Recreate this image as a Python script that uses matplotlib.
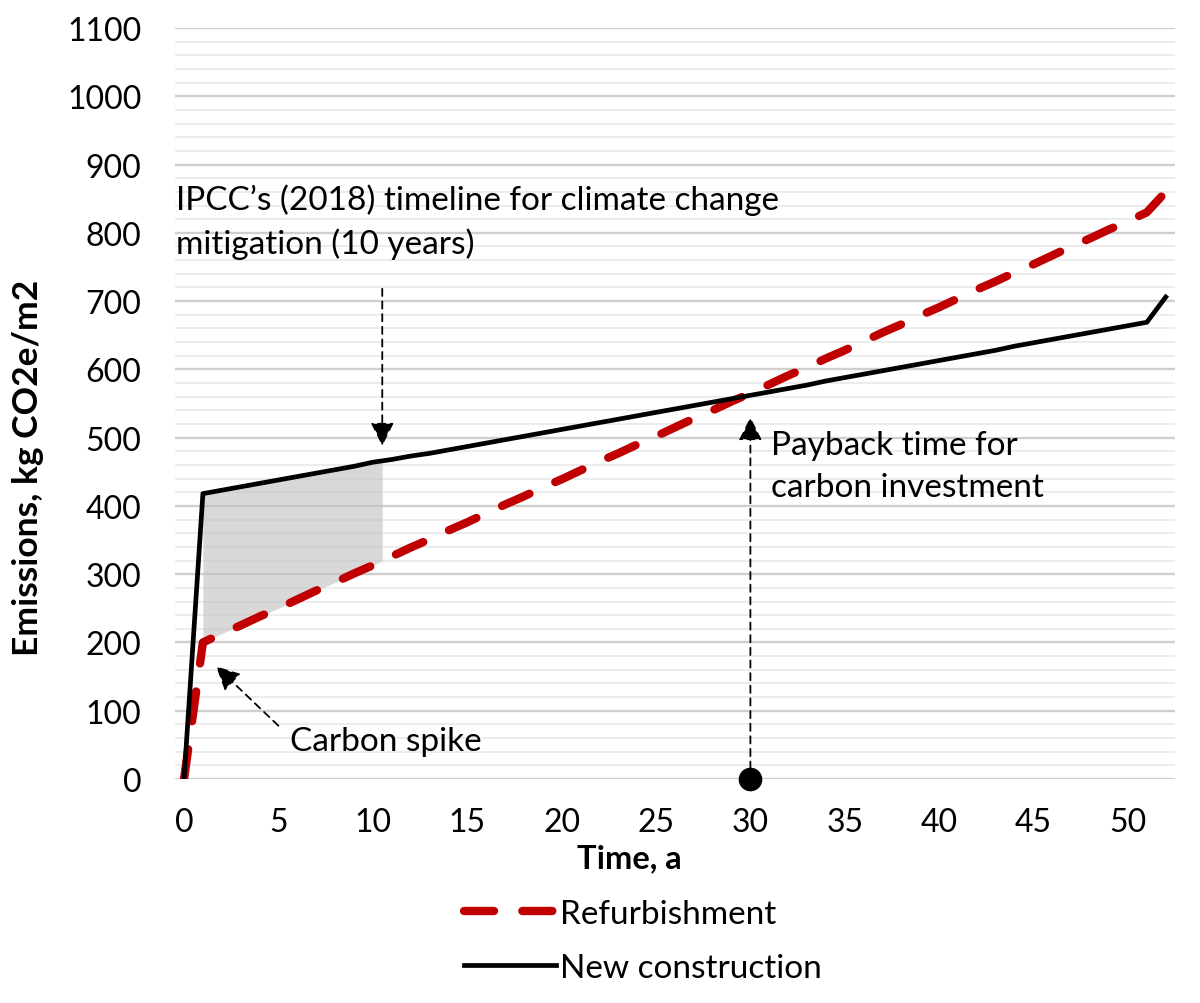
import numpy as np
import matplotlib
matplotlib.use('Agg')
from matplotlib import pyplot as plt

# Datos (kg CO2e/m2 por año)
years = list(range(0, 53))
new_construction = [0, 418, 423, 428, 433, 438, 443, 448, 453, 458,
                    464, 468, 473, 477, 482, 487, 492, 497, 502, 507,
                    512, 517, 522, 527, 532, 537, 542, 547, 552, 557,
                    562, 567, 572, 577, 583, 588, 593, 598, 603, 608,
                    613, 618, 623, 628, 634, 639, 644, 649, 654, 659,
                    664, 669, 706]
refurbishment = [0, 200, 213, 225, 238, 250, 263, 276, 288, 301,
                 313, 326, 339, 351, 364, 376, 389, 402, 414, 427,
                 439, 452, 465, 477, 490, 502, 515, 528, 540, 553,
                 565, 578, 591, 603, 616, 628, 641, 654, 666, 679,
                 691, 704, 717, 729, 742, 754, 767, 780, 792, 805,
                 817, 830, 860]
shade_end = 10.5
payback_year = 30
y_ticks = list(range(0, 1101, 100))
x_ticks = list(range(0, 51, 5))

plt.rcParams['font.family'] = ['Lato', 'DejaVu Sans']

fig = plt.figure(figsize=(12, 10.04), dpi=100)
ax = fig.add_axes([0.1455, 0.2231, 0.8338, 0.7480])

# zona sombreada entre ambas curvas (primeros 10 años)
xs = np.linspace(1, shade_end, 50)
top = np.interp(xs, years, new_construction)
bot = np.interp(xs, years, refurbishment)
ax.fill_between(xs, bot, top, color='#bfbfbf', alpha=0.6, lw=0, zorder=2)

ax.plot(years, refurbishment, color='#c00000', lw=6, linestyle=(0, (3.6, 3.4)),
        dash_capstyle='round', label='Refurbishment', zorder=3)
ax.plot(years, new_construction, color='black', lw=3.4, label='New construction', zorder=4)

ax.set_xlim(-0.5, 52.5)
ax.set_ylim(0, 1100)
ax.set_xticks(x_ticks)
ax.set_yticks(y_ticks)
ax.set_yticks(range(0, 1101, 20), minor=True)
ax.grid(which='major', axis='y', color='#cfcfcf', lw=1.7, zorder=0)
ax.grid(which='minor', axis='y', color='#ececec', lw=1.4, zorder=0)
ax.set_axisbelow(True)
for s in ax.spines.values():
    s.set_visible(False)
ax.tick_params(which='both', length=0, labelsize=23)
ax.tick_params(axis='x', pad=20)
ax.tick_params(axis='y', pad=24)

ax.set_xlabel('Time, a', fontsize=23.5, fontweight='bold')
ax.xaxis.set_label_coords(0.454, -0.086)
ax.set_ylabel('Emissions, kg CO2e/m2', fontsize=25.5, fontweight='bold')
ax.yaxis.set_label_coords(-0.131, 0.415)

arrow_kw = dict(arrowstyle='-|>', linestyle=(0, (4, 3)), color='black', lw=1.3,
                mutation_scale=36, shrinkA=0, shrinkB=0)

ax.text(-0.4, 817, 'IPCC’s (2018) timeline for climate change\nmitigation (10 years)',
        fontsize=24, ha='left', va='center', linespacing=1.45)
ax.annotate('', xy=(shade_end, 488), xytext=(shade_end, 718), arrowprops=arrow_kw)

ax.text(5.6, 56, 'Carbon spike', fontsize=24, ha='left', va='center')
ax.annotate('', xy=(1.7, 165), xytext=(5.0, 78), arrowprops=arrow_kw)

ax.plot([payback_year], [0], 'o', color='black', ms=16, zorder=6, clip_on=False)
ax.annotate('', xy=(payback_year, 530), xytext=(payback_year, 15), arrowprops=arrow_kw)
ax.text(31.1, 459, 'Payback time for\ncarbon investment', fontsize=24, ha='left',
        va='center', linespacing=1.5)

leg = ax.legend(loc='upper center', bbox_to_anchor=(0.468, -0.137), frameon=False,
                fontsize=24, ncol=1, handlelength=2.75, handletextpad=0.12,
                labelspacing=0.72, borderpad=0)

fig.savefig('out.png', dpi=100)
